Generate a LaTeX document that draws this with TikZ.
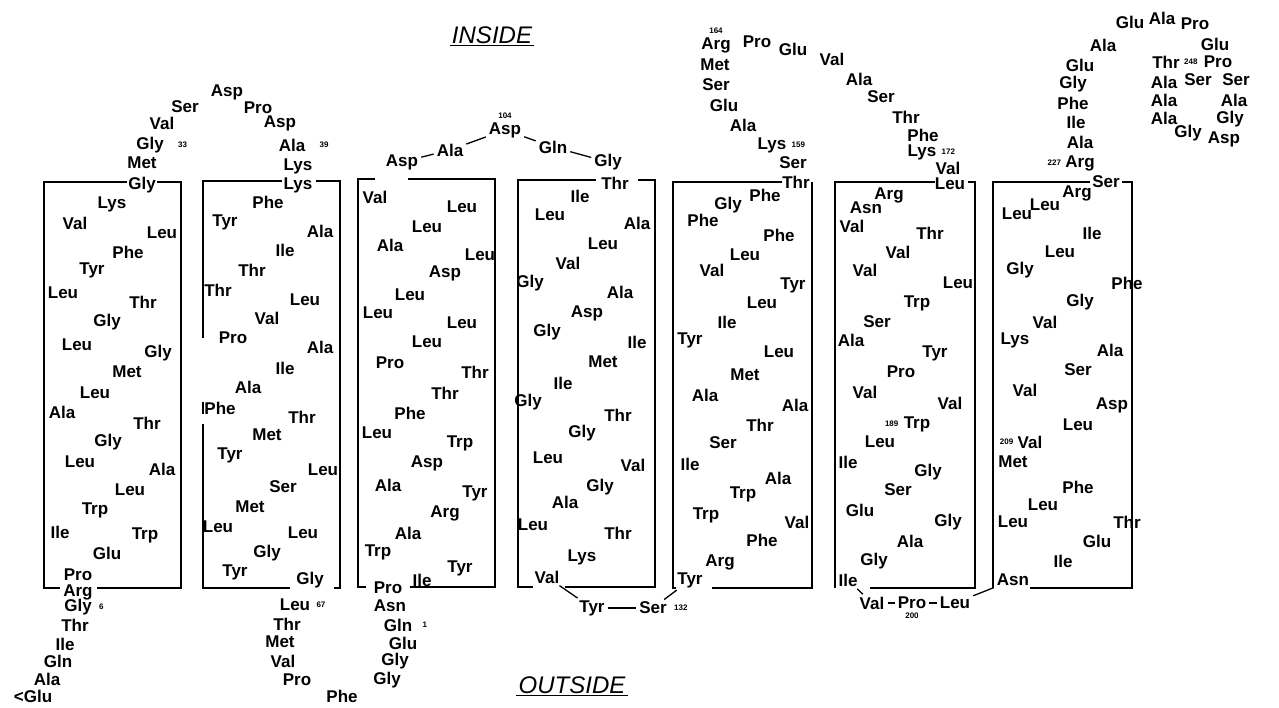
\documentclass[tikz,border=0pt]{standalone}
\usepackage{fontspec}
\setmainfont{Liberation Sans}
\usetikzlibrary{positioning}

\begin{document}
\begin{tikzpicture}[x=1pt, y=-1pt, font=\fontsize{17}{17}\selectfont\bfseries,
  res/.style={inner sep=1pt},
  num/.style={font=\fontsize{8}{8}\selectfont\bfseries, inner sep=0pt},
  helix/.style={line width=1.3pt},
  link/.style={line width=1.3pt, shorten <=2pt, shorten >=2pt},
  side/.style={font=\fontsize{24}{24}\selectfont\itshape, inner sep=2pt}]
  \useasboundingbox (0,0) rectangle (1279,707);

  % membrane sides
  \node[side] (inside) at (492,35) {INSIDE};
  \node[side] (outside) at (572,685) {OUTSIDE};
  \draw[thick] (inside.south west) -- (inside.south east);
  \draw[thick] (outside.south west) -- (outside.south east);

  % helix boxes
  \draw[helix] (127,182) -- (44,182) -- (44,588) -- (60,588);
  \draw[helix] (157,182) -- (181,182) -- (181,588) -- (97,588);
  \draw[helix] (282,181) -- (203,181) -- (203,338);
  \draw[helix] (203,402) -- (203,414);
  \draw[helix] (203,424) -- (203,588) -- (290,588);
  \draw[helix] (316,181) -- (340,181) -- (340,588) -- (334,588);
  \draw[helix] (375,179) -- (358,179) -- (358,587) -- (366,587);
  \draw[helix] (408,179) -- (495,179) -- (495,587) -- (410,587);
  \draw[helix] (596,180) -- (518,180) -- (518,587) -- (533,587);
  \draw[helix] (638,180) -- (655,180) -- (655,587) -- (565,587);
  \draw[helix] (782,182) -- (673,182) -- (673,588) -- (676,588);
  \draw[helix] (812,182) -- (812,588) -- (712,588);
  \draw[helix] (935,182) -- (835,182) -- (835,588);
  \draw[helix] (968,182) -- (975,182) -- (975,588) -- (870,588);
  \draw[helix] (1090,182) -- (993,182) -- (993,588);
  \draw[helix] (1122,182) -- (1132,182) -- (1132,588) -- (1030,588);

  % N-terminus
  \foreach \lab/\px/\py [count=\i] in {Gly/78/607, Thr/75/625, Ile/65/644,
      Gln/58/661, Ala/47/679, <Glu/33/696}
    \node[res] (nt\i) at (\px,\py) {\lab};
  \node[num, right=6pt of nt1] {6};

  % helix A
  \foreach \lab/\px/\py [count=\i] in {Gly/142/185, Lys/112/204, Val/75/223,
      Leu/162/233, Phe/128/252, Tyr/92/270, Leu/63/293, Thr/143/302,
      Gly/107/322, Leu/77/345, Gly/158/353, Met/127/372, Leu/95/393,
      Ala/62/412, Thr/147/423, Gly/108/442, Leu/80/462, Ala/162/469,
      Leu/130/490, Trp/95/510, Ile/60/532, Trp/145/535, Glu/107/553,
      Pro/78/575, Arg/78/592}
    \node[res] (ha\i) at (\px,\py) {\lab};

  % loop A-B
  \foreach \lab/\px/\py [count=\i] in {Met/142/163, Gly/150/145, Val/162/123,
      Ser/185/107, Asp/227/92, Pro/258/108, Asp/280/123, Ala/292/145,
      Lys/298/166}
    \node[res] (ab\i) at (\px,\py) {\lab};
  \node[num, right=13pt of ab2] {33};
  \node[num, right=13pt of ab8] {39};

  % helix B
  \foreach \lab/\px/\py [count=\i] in {Lys/298/185, Phe/268/202, Tyr/225/222,
      Ala/320/231, Ile/285/250, Thr/252/270, Thr/218/290, Leu/305/300,
      Val/267/318, Pro/233/338, Ala/320/347, Ile/285/368, Ala/248/387,
      Phe/220/408, Thr/302/417, Met/267/435, Tyr/230/455, Leu/323/470,
      Ser/283/487, Met/250/507, Leu/218/527, Leu/303/533, Gly/267/553,
      Tyr/235/572, Gly/310/580}
    \node[res] (hb\i) at (\px,\py) {\lab};

  % loop B-C
  \foreach \lab/\px/\py [count=\i] in {Leu/295/605, Thr/287/624, Met/280/642,
      Val/283/661, Pro/297/680, Phe/342/696, Gly/387/680, Gly/395/661,
      Glu/403/643, Gln/398/625, Asn/390/606}
    \node[res] (bc\i) at (\px,\py) {\lab};
  \node[num, right=5pt of bc1] {67};
  \node[num, right=9pt of bc10] {1};

  % helix C
  \foreach \lab/\px/\py [count=\i] in {Pro/388/588, Ile/422/580, Tyr/460/568,
      Trp/378/552, Ala/408/533, Arg/445/513, Tyr/475/493, Ala/388/485,
      Asp/427/463, Trp/460/443, Leu/377/433, Phe/410/413, Thr/445/393,
      Thr/475/372, Pro/390/363, Leu/427/342, Leu/462/323, Leu/378/313,
      Leu/410/295, Asp/445/273, Leu/480/255, Ala/390/245, Leu/427/227,
      Leu/462/207, Val/375/197}
    \node[res] (hc\i) at (\px,\py) {\lab};

  % loop C-D
  \foreach \lab/\px/\py [count=\i] in {Asp/402/162, Ala/450/150, Asp/505/130,
      Gln/553/147, Gly/608/162}
    \node[res] (cd\i) at (\px,\py) {\lab};
  \node[num, above=2pt of cd3] {104};
  \foreach \a/\b in {1/2, 2/3, 3/4, 4/5}
    \draw[link] (cd\a) -- (cd\b);

  % helix D
  \foreach \lab/\px/\py [count=\i] in {Thr/615/183, Ile/580/196, Leu/550/215,
      Ala/637/223, Leu/603/244, Val/568/263, Gly/530/283, Ala/620/292,
      Asp/587/313, Gly/547/332, Ile/637/342, Met/603/362, Ile/563/383,
      Gly/528/402, Thr/618/415, Gly/582/433, Leu/548/458, Val/633/465,
      Gly/600/487, Ala/565/502, Leu/533/525, Thr/618/533, Lys/582/557,
      Val/547/577}
    \node[res] (hd\i) at (\px,\py) {\lab};

  % loop D-E
  \node[res] (de1) at (592,608) {Tyr};
  \node[res] (de2) at (653,608) {Ser};
  \node[num, right=6pt of de2] {132};

  % helix E
  \foreach \lab/\px/\py [count=\i] in {Thr/796/182, Phe/765/195, Gly/728/205,
      Phe/703/220, Phe/779/235, Leu/745/255, Val/712/270, Tyr/793/285,
      Leu/762/303, Ile/727/322, Tyr/690/340, Leu/779/352, Met/745/375,
      Ala/705/395, Ala/795/405, Thr/760/425, Ser/723/443, Ile/690/464,
      Ala/778/478, Trp/743/494, Trp/706/515, Val/797/522, Phe/762/540,
      Arg/720/562, Tyr/690/580}
    \node[res] (he\i) at (\px,\py) {\lab};

  \draw[link] (hd24) -- (de1);
  \draw[link] (de1) -- (de2);
  \draw[link] (de2) -- (he25);

  % loop E-F
  \foreach \lab/\px/\py [count=\i] in {Ser/793/163, Lys/772/145, Ala/743/125,
      Glu/724/105, Ser/716/85, Met/715/65, Arg/716/45, Pro/757/42,
      Glu/793/49, Val/832/59, Ala/859/79, Ser/881/97, Thr/906/117,
      Phe/923/135, Lys/922/152, Val/948/168}
    \node[res] (ef\i) at (\px,\py) {\lab};
  \node[num, right=4pt of ef2] {159};
  \node[num, above=2pt of ef7] {164};
  \node[num, right=4pt of ef15] {172};

  % helix F
  \foreach \lab/\px/\py [count=\i] in {Leu/950/184, Arg/889/195, Asn/866/208,
      Val/852/226, Thr/930/233, Val/898/252, Val/865/270, Leu/958/283,
      Trp/917/303, Ser/877/322, Ala/851/340, Tyr/935/353, Pro/901/372,
      Val/865/392, Val/950/403, Trp/917/424, Leu/880/442, Ile/848/462,
      Gly/928/472, Ser/898/490, Glu/860/510, Gly/948/522, Ala/910/541,
      Gly/874/561, Ile/848/580}
    \node[res] (hf\i) at (\px,\py) {\lab};
  \node[num, left=4pt of hf16] {189};

  % loop F-G
  \foreach \lab/\px/\py [count=\i] in {Val/872/603, Pro/912/603, Leu/955/603}
    \node[res] (fg\i) at (\px,\py) {\lab};
  \node[num, below=3pt of fg2] {200};

  % helix G
  \foreach \lab/\px/\py [count=\i] in {Asn/1013/580, Ile/1063/561, Glu/1097/541,
      Thr/1127/522, Leu/1013/522, Leu/1043/505, Phe/1078/487, Met/1013/462,
      Val/1030/442, Leu/1078/425, Asp/1112/405, Val/1025/390, Ser/1078/370,
      Ala/1110/350, Lys/1015/340, Val/1045/322, Gly/1080/302, Phe/1127/283,
      Gly/1020/270, Leu/1060/252, Ile/1092/233, Leu/1017/214, Leu/1045/205,
      Arg/1077/193, Ser/1106/182}
    \node[res] (hg\i) at (\px,\py) {\lab};
  \node[num, left=3pt of hg9] {209};

  \draw[link] (hf25) -- (fg1);
  \draw[link] (fg1) -- (fg2);
  \draw[link] (fg2) -- (fg3);
  \draw[link] (fg3) -- (hg1);

  % C-terminus
  \foreach \lab/\px/\py [count=\i] in {Arg/1080/163, Ala/1080/142, Ile/1076/122,
      Phe/1073/103, Gly/1073/84, Glu/1080/65, Ala/1103/45, Glu/1130/22,
      Ala/1162/18, Pro/1195/24, Glu/1215/44, Pro/1218/62, Ser/1236/80,
      Ala/1234/100, Gly/1230/119, Asp/1224/139, Gly/1188/133, Ala/1164/118,
      Ala/1164/100, Ala/1164/82, Thr/1166/62, Ser/1198/80}
    \node[res] (ct\i) at (\px,\py) {\lab};
  \node[num, left=3pt of ct1] {227};
  \node[num, right=3pt of ct21] {248};
\end{tikzpicture}
\end{document}
